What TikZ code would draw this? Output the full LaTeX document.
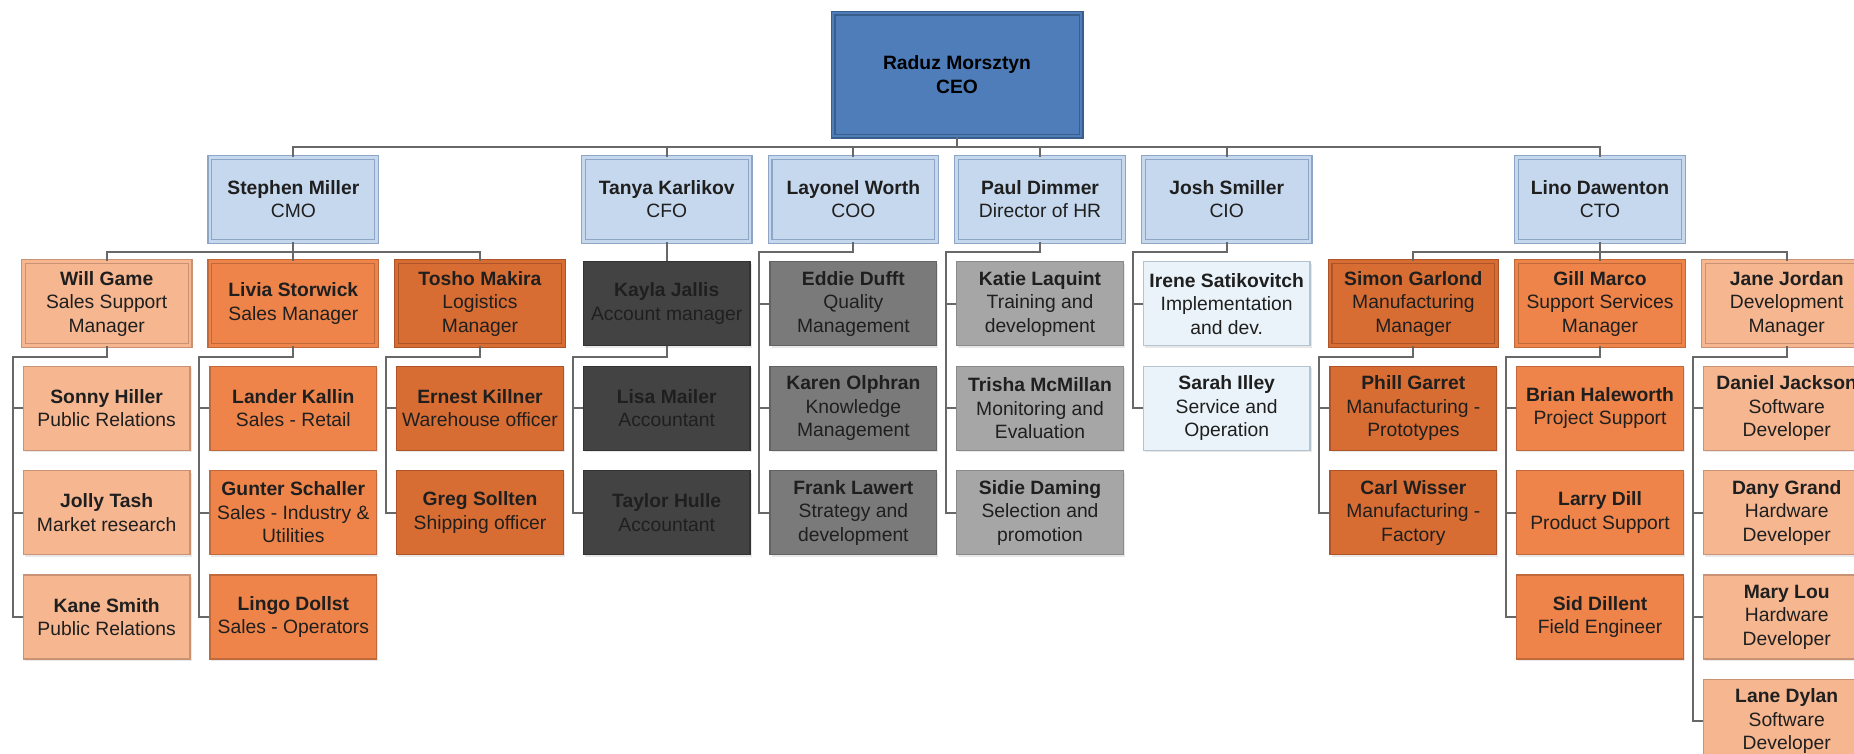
\documentclass[tikz,border=0pt]{standalone}
\usepackage{fontspec}
\setmainfont{Liberation Sans}
\usetikzlibrary{shadows}
\definecolor{ceoF}{HTML}{4F7DBA}
\definecolor{ceoD}{HTML}{3A5E8C}
\definecolor{lbF}{HTML}{C6D8EE}
\definecolor{lbD}{HTML}{8DA6C6}
\definecolor{peF}{HTML}{F5B690}
\definecolor{peD}{HTML}{C99274}
\definecolor{orF}{HTML}{EE844A}
\definecolor{orD}{HTML}{C0693A}
\definecolor{doF}{HTML}{D86D33}
\definecolor{doD}{HTML}{AD5529}
\definecolor{dgF}{HTML}{434343}
\definecolor{dgD}{HTML}{333333}
\definecolor{mgF}{HTML}{7A7A7A}
\definecolor{mgD}{HTML}{636363}
\definecolor{lgF}{HTML}{A6A6A6}
\definecolor{lgD}{HTML}{8A8A8A}
\definecolor{wbF}{HTML}{EAF3F9}
\definecolor{wbD}{HTML}{B3C3D0}
\definecolor{lineC}{HTML}{686868}
\newcommand\boxfont{\fontsize{19.3}{23.5}\selectfont}
\newcommand\pn[6]{\node[#4] (#1) at ({106.67+186.67*#2},{199.3+104.4*(#3-1)}) {\textbf{#5}\\#6};}
\newcommand\elbow[2]{\draw[conn] (#1.south) -- ++(0,10.2) -| ([xshift=-10pt]#2.west) -- (#2.west);}
\begin{document}
\begin{tikzpicture}[x=1pt,y=-1pt,
  box/.style={rectangle, minimum width=166.7pt, minimum height=84pt, inner sep=0pt,
    align=center, font=\boxfont, text=black!88, line width=1.2pt,
    drop shadow={opacity=0.18, shadow xshift=1.5pt, shadow yshift=-2pt}},
  single/.style={box, fill=#1F, draw=#1D},
  mgr/.style={box, fill=#1F, draw=#1D, double=#1F, double distance=2.6pt},
  conn/.style={draw=lineC, line width=2pt}]
\useasboundingbox (0,0) rectangle (1854,753);
\clip (0,0) rectangle (1854,753);
\fill[white] (0,0) rectangle (1854,753);
% CEO
\node[mgr=ceo, minimum width=248pt, minimum height=123pt, text=black] (ceo) at (957,74.5) {\textbf{Raduz Morsztyn}\\\textbf{CEO}};
% level 1
\pn{sm}{1}{1}{mgr=lb}{Stephen Miller}{CMO}
\pn{tk}{3}{1}{mgr=lb}{Tanya Karlikov}{CFO}
\pn{lw}{4}{1}{mgr=lb}{Layonel Worth}{COO}
\pn{pd}{5}{1}{mgr=lb}{Paul Dimmer}{Director of HR}
\pn{js}{6}{1}{mgr=lb}{Josh Smiller}{CIO}
\pn{ld}{8}{1}{mgr=lb}{Lino Dawenton}{CTO}
% level 2
\pn{wg}{0}{2}{mgr=pe}{Will Game}{Sales Support\\Manager}
\pn{ls}{1}{2}{mgr=or}{Livia Storwick}{Sales Manager}
\pn{tm}{2}{2}{mgr=do}{Tosho Makira}{Logistics\\Manager}
\pn{kj}{3}{2}{single=dg}{Kayla Jallis}{Account manager}
\pn{ed}{4}{2}{single=mg}{Eddie Dufft}{Quality\\Management}
\pn{kl}{5}{2}{single=lg}{Katie Laquint}{Training and\\development}
\pn{is}{6}{2}{single=wb}{Irene Satikovitch}{Implementation\\and dev.}
\pn{sg}{7}{2}{mgr=do}{Simon Garlond}{Manufacturing\\Manager}
\pn{gm}{8}{2}{mgr=or}{Gill Marco}{Support Services\\Manager}
\pn{jj}{9}{2}{mgr=pe}{Jane Jordan}{Development\\Manager}
% row 3
\pn{sh}{0}{3}{single=pe}{Sonny Hiller}{Public Relations}
\pn{lk}{1}{3}{single=or}{Lander Kallin}{Sales - Retail}
\pn{ek}{2}{3}{single=do}{Ernest Killner}{Warehouse officer}
\pn{lm}{3}{3}{single=dg}{Lisa Mailer}{Accountant}
\pn{ko}{4}{3}{single=mg}{Karen Olphran}{Knowledge\\Management}
\pn{tmc}{5}{3}{single=lg}{Trisha McMillan}{Monitoring and\\Evaluation}
\pn{si}{6}{3}{single=wb}{Sarah Illey}{Service and\\Operation}
\pn{pg}{7}{3}{single=do}{Phill Garret}{Manufacturing -\\Prototypes}
\pn{bh}{8}{3}{single=or}{Brian Haleworth}{Project Support}
\pn{dj}{9}{3}{single=pe}{Daniel Jackson}{Software\\Developer}
% row 4
\pn{jt}{0}{4}{single=pe}{Jolly Tash}{Market research}
\pn{gs}{1}{4}{single=or}{Gunter Schaller}{Sales - Industry \&\\Utilities}
\pn{gso}{2}{4}{single=do}{Greg Sollten}{Shipping officer}
\pn{th}{3}{4}{single=dg}{Taylor Hulle}{Accountant}
\pn{fl}{4}{4}{single=mg}{Frank Lawert}{Strategy and\\development}
\pn{sd}{5}{4}{single=lg}{Sidie Daming}{Selection and\\promotion}
\pn{cw}{7}{4}{single=do}{Carl Wisser}{Manufacturing -\\Factory}
\pn{lad}{8}{4}{single=or}{Larry Dill}{Product Support}
\pn{dgr}{9}{4}{single=pe}{Dany Grand}{Hardware\\Developer}
% row 5
\pn{ks}{0}{5}{single=pe}{Kane Smith}{Public Relations}
\pn{lgd}{1}{5}{single=or}{Lingo Dollst}{Sales - Operators}
\pn{sdl}{8}{5}{single=or}{Sid Dillent}{Field Engineer}
\pn{ml}{9}{5}{single=pe}{Mary Lou}{Hardware\\Developer}
% row 6
\pn{ldy}{9}{6}{single=pe}{Lane Dylan}{Software\\Developer}
% connectors
\foreach \n in {sm,tk,lw,pd,js,ld}{\draw[conn] (ceo.south) -- ++(0,10) -| (\n.north);}
\foreach \n in {wg,ls,tm}{\draw[conn] (sm.south) -- ++(0,10.2) -| (\n.north);}
\foreach \n in {sg,gm,jj}{\draw[conn] (ld.south) -- ++(0,10.2) -| (\n.north);}
\draw[conn] (tk.south) -- (kj.north);
\foreach \n in {sh,jt,ks}{\elbow{wg}{\n}}
\foreach \n in {lk,gs,lgd}{\elbow{ls}{\n}}
\foreach \n in {ek,gso}{\elbow{tm}{\n}}
\foreach \n in {lm,th}{\elbow{kj}{\n}}
\foreach \n in {ed,ko,fl}{\elbow{lw}{\n}}
\foreach \n in {kl,tmc,sd}{\elbow{pd}{\n}}
\foreach \n in {is,si}{\elbow{js}{\n}}
\foreach \n in {pg,cw}{\elbow{sg}{\n}}
\foreach \n in {bh,lad,sdl}{\elbow{gm}{\n}}
\foreach \n in {dj,dgr,ml,ldy}{\elbow{jj}{\n}}
\end{tikzpicture}
\end{document}
